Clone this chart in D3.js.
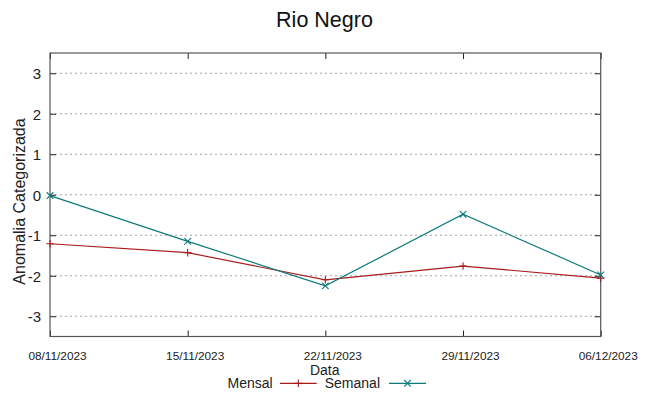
<!DOCTYPE html>
<html><head><meta charset="utf-8">
<script src="https://cdn.jsdelivr.net/npm/d3@7"></script>
<style>
body{margin:0;background:#fff;}
svg{display:block;font-family:"Liberation Sans",Arial,sans-serif;}
</style></head>
<body><svg id="c" width="649" height="396"></svg>
<script>
const dates = ["08/11/2023","15/11/2023","22/11/2023","29/11/2023","06/12/2023"];
const mensal = [-1.21,-1.43,-2.10,-1.76,-2.06];
const semanal = [-0.02,-1.15,-2.25,-0.48,-1.98];
const yTicks = [-3,-2,-1,0,1,2,3];

const svg = d3.select("#c");
const L=50, R=600.7, T=53, B=336.5;
const x = d3.scalePoint().domain(dates).range([L,R]);
const y = d3.scaleLinear().domain([-3.5,3.5]).range([B,T]);

// grid
svg.append("g").selectAll("line").data(yTicks).join("line")
  .attr("x1",L).attr("x2",R).attr("y1",d=>y(d)).attr("y2",d=>y(d))
  .attr("stroke","#a0a0a0").attr("stroke-width",1).attr("stroke-dasharray","2,3");

// axes ticks
const yl = svg.append("g").attr("transform",`translate(${L},0)`)
  .call(d3.axisLeft(y).tickValues(yTicks).tickSize(-6).tickPadding(9).tickFormat(d=>String(d)));
const yr = svg.append("g").attr("transform",`translate(${R},0)`)
  .call(d3.axisRight(y).tickValues(yTicks).tickSize(-6).tickFormat(""));
const xb = svg.append("g").attr("transform",`translate(0,${B})`)
  .call(d3.axisBottom(x).tickSize(-6).tickPadding(0).tickFormat(""));
const xt = svg.append("g").attr("transform",`translate(0,${T})`)
  .call(d3.axisTop(x).tickSize(-6).tickFormat(""));
[yl,yr,xb,xt].forEach(g=>{g.select(".domain").remove();
  g.selectAll(".tick line").attr("stroke","#222").attr("stroke-width",1);});
yl.selectAll("text").attr("font-size",15).attr("fill","#222")
  .attr("font-family","Liberation Sans, Arial, sans-serif").attr("dy","0.36em");

// x labels
svg.append("g").selectAll("text").data(dates).join("text")
  .attr("x",d=>x(d)+7.5).attr("y",360).attr("text-anchor","middle")
  .attr("font-size",11.8).attr("fill","#222").text(d=>d);

// frame
svg.append("rect").attr("x",L).attr("y",T).attr("width",R-L).attr("height",B-T)
  .attr("fill","none").attr("stroke","#555").attr("stroke-width",1.2);

// lines
const line = d3.line().x((d,i)=>x(dates[i])).y(d=>y(d));
const cR="#a81c1c", cT="#0d7a7a";
svg.append("path").datum(mensal).attr("d",line).attr("fill","none").attr("stroke",cR).attr("stroke-width",1.2);
svg.append("path").datum(semanal).attr("d",line).attr("fill","none").attr("stroke",cT).attr("stroke-width",1.2);
const s=3.8;
svg.append("g").selectAll("path").data(mensal).join("path")
  .attr("d",(d,i)=>{const cx=x(dates[i]),cy=y(d);return `M${cx-s},${cy}H${cx+s}M${cx},${cy-s}V${cy+s}`;})
  .attr("stroke",cR).attr("stroke-width",1.1);
const s2=3.3;
svg.append("g").selectAll("path").data(semanal).join("path")
  .attr("d",(d,i)=>{const cx=x(dates[i]),cy=y(d);return `M${cx-s2},${cy-s2}L${cx+s2},${cy+s2}M${cx-s2},${cy+s2}L${cx+s2},${cy-s2}`;})
  .attr("stroke",cT).attr("stroke-width",1.1);

// title
svg.append("text").attr("x",324.5).attr("y",27).attr("text-anchor","middle")
  .attr("font-size",21.5).attr("fill","#111").text("Rio Negro");
// y label
svg.append("text").attr("transform","translate(24.5,201.5) rotate(-90)").attr("text-anchor","middle")
  .attr("font-size",16).attr("fill","#222").text("Anomalia Categorizada");
// x label
svg.append("text").attr("x",324.7).attr("y",374.5).attr("text-anchor","middle")
  .attr("font-size",14).attr("fill","#222").text("Data");

// legend
const leg=[{n:"Mensal",c:cR,tx:272.7,lx1:280,lx2:316.7,m:"+"},{n:"Semanal",c:cT,tx:380,lx1:389,lx2:426,m:"x"}];
const lg=svg.append("g");
leg.forEach(o=>{
  lg.append("text").attr("x",o.tx).attr("y",387.5).attr("text-anchor","end")
    .attr("font-size",14).attr("fill","#222").text(o.n);
  lg.append("line").attr("x1",o.lx1).attr("x2",o.lx2).attr("y1",383.3).attr("y2",383.3)
    .attr("stroke",o.c).attr("stroke-width",1.2);
  const cx=(o.lx1+o.lx2)/2, cy=383.3;
  lg.append("path").attr("d", o.m==="+"?`M${cx-s},${cy}H${cx+s}M${cx},${cy-s}V${cy+s}`:
    `M${cx-s2},${cy-s2}L${cx+s2},${cy+s2}M${cx-s2},${cy+s2}L${cx+s2},${cy-s2}`)
    .attr("stroke",o.c).attr("stroke-width",1.1);
});
</script></body></html>
